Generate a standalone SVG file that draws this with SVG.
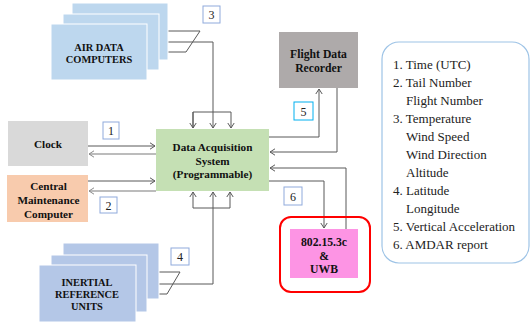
<svg xmlns="http://www.w3.org/2000/svg" width="531" height="323" viewBox="0 0 531 323">
<style>
text{font-family:'Liberation Serif','DejaVu Serif',serif}
.lbl{font-weight:bold;font-size:11.2px;fill:#111;text-anchor:middle}
.cap{font-weight:bold;font-size:10.4px;fill:#111;text-anchor:middle}
.num{font-size:12px;fill:#222;text-anchor:middle}
.nb{fill:#fff;stroke:#8faadc;stroke-width:1}
.leg{font-size:13px;fill:#222}
.dk{fill:none;stroke:#595959;stroke-width:1}
.lt{fill:none;stroke:#a6a6a6;stroke-width:1.6}
.adc{fill:#bdd7ee;stroke:#fff;stroke-width:1}
.iru{fill:#b4c7e7;stroke:#fff;stroke-width:1}
</style>
<defs>
<marker id="ad" viewBox="0 0 6 8" refX="5.5" refY="4" markerWidth="6" markerHeight="8" markerUnits="userSpaceOnUse" orient="auto">
<path d="M0.5,0.8 L5.5,4 L0.5,7.2" fill="none" stroke="#595959" stroke-width="1"/>
</marker>
<marker id="al" viewBox="0 0 6 8" refX="5.5" refY="4" markerWidth="6" markerHeight="8" markerUnits="userSpaceOnUse" orient="auto">
<path d="M0.5,0.8 L5.5,4 L0.5,7.2" fill="none" stroke="#8c8c8c" stroke-width="1"/>
</marker>
</defs>
<rect width="531" height="323" fill="#fff"/>

<g id="connectors">
<polyline class="dk" points="168,31 200,31 186,52 147,52"/>
<polyline class="dk" points="159,42 213,42 213,112"/>
<polyline class="dk" points="193,128 193,112 231,112 231,128" marker-end="url(#ad)"/>
<line class="dk" x1="193" y1="112" x2="193" y2="128" marker-end="url(#ad)"/>
<line class="dk" x1="213" y1="112" x2="213" y2="128" marker-end="url(#ad)"/>
<polyline class="dk" points="159,272 180,272 167,294 136,294"/>
<polyline class="dk" points="147,284 213,284 213,208"/>
<polyline class="dk" points="193,208 230,208"/>
<line class="dk" x1="193" y1="208" x2="193" y2="192" marker-end="url(#ad)"/>
<line class="dk" x1="213" y1="208" x2="213" y2="192" marker-end="url(#ad)"/>
<line class="dk" x1="230" y1="208" x2="230" y2="192" marker-end="url(#ad)"/>
<line class="dk" x1="88" y1="146" x2="155" y2="146" marker-end="url(#ad)"/>
<line class="lt" x1="156" y1="154" x2="89" y2="154" marker-end="url(#al)"/>
<line class="dk" x1="88" y1="181" x2="155" y2="181" marker-end="url(#ad)"/>
<line class="lt" x1="156" y1="191" x2="89" y2="191" marker-end="url(#al)"/>
<polyline class="dk" points="269,137 319,137 319,89" marker-end="url(#ad)"/>
<polyline class="dk" points="337,88 337,152 270,152" marker-end="url(#ad)"/>
<polyline class="dk" points="269,181 324,181 324,228" marker-end="url(#ad)"/>
<polyline class="dk" points="346,229 346,168 270,168" marker-end="url(#ad)"/>
</g>

<g id="adc">
<rect class="adc" x="72" y="3" width="96" height="57"/>
<rect class="adc" x="63" y="14" width="96" height="56"/>
<rect class="adc" x="51" y="24" width="96" height="56"/>
<text class="cap" x="99" y="50.5">AIR DATA</text>
<text class="cap" x="99" y="63">COMPUTERS</text>
</g>

<g id="iru">
<rect class="iru" x="63" y="243" width="96" height="56"/>
<rect class="iru" x="51" y="255" width="96" height="57"/>
<rect class="iru" x="39" y="265" width="97" height="57"/>
<text class="cap" x="87" y="285.5">INERTIAL</text>
<text class="cap" x="87" y="297.5">REFERENCE</text>
<text class="cap" x="87" y="310">UNITS</text>
</g>

<g id="clock">
<rect x="8" y="121" width="80" height="45" fill="#d9d9d9"/>
<text class="lbl" x="48" y="148">Clock</text>
</g>

<g id="cmc">
<rect x="7" y="175" width="81" height="47" fill="#f8cbad"/>
<text class="lbl" x="48.5" y="189.5">Central</text>
<text class="lbl" x="48.5" y="204">Maintenance</text>
<text class="lbl" x="48.5" y="218">Computer</text>
</g>

<g id="das">
<rect x="156" y="129" width="113" height="62" fill="#c5e0b4"/>
<text class="lbl" x="212.5" y="150.5">Data Acquisition</text>
<text class="lbl" x="212.5" y="164.5">System</text>
<text class="lbl" x="212.5" y="178">(Programmable)</text>
</g>

<g id="fdr">
<rect x="279" y="32" width="79" height="56" fill="#aeaaaa"/>
<text class="lbl" x="318.5" y="57.5" style="font-size:11.7px">Flight Data</text>
<text class="lbl" x="318.5" y="71.5" style="font-size:11.7px">Recorder</text>
</g>

<g id="uwb">
<rect x="280" y="217" width="90" height="75" rx="11" fill="none" stroke="#ff0000" stroke-width="2"/>
<rect x="290" y="229" width="68" height="49" fill="#fd94e4"/>
<text class="lbl" x="324" y="246" style="font-size:11.7px">802.15.3c</text>
<text class="lbl" x="324" y="259.5" style="font-size:11.7px">&amp;</text>
<text class="lbl" x="324" y="273" style="font-size:11.7px">UWB</text>
</g>

<g id="n1"><rect class="nb" x="103" y="122" width="16" height="17"/><text class="num" x="111" y="135">1</text></g>
<g id="n2"><rect class="nb" x="100" y="197" width="17" height="16"/><text class="num" x="108.5" y="209.5">2</text></g>
<g id="n3"><rect class="nb" x="203" y="6" width="17" height="17"/><text class="num" x="211.5" y="19">3</text></g>
<g id="n4"><rect class="nb" x="171" y="248" width="18" height="17"/><text class="num" x="180" y="261">4</text></g>
<g id="n5"><rect x="294" y="102" width="19" height="18" fill="#fff" stroke="#00b0f0" stroke-width="1"/><text class="num" x="303.5" y="115.5">5</text></g>
<g id="n6"><rect class="nb" x="284" y="187" width="18" height="18"/><text class="num" x="293" y="200.5">6</text></g>

<g id="legend">
<rect x="382" y="42" width="147" height="221" rx="17" fill="#fff" stroke="#9dc3e6" stroke-width="1.2"/>
<text class="leg" x="393" y="68.5">1. Time (UTC)</text>
<text class="leg" x="393" y="86.5">2. Tail Number</text>
<text class="leg" x="406" y="104.5">Flight Number</text>
<text class="leg" x="393" y="122.5">3. Temperature</text>
<text class="leg" x="406" y="140.5">Wind Speed</text>
<text class="leg" x="406" y="158.5">Wind Direction</text>
<text class="leg" x="406" y="176.5">Altitude</text>
<text class="leg" x="393" y="194.5">4. Latitude</text>
<text class="leg" x="406" y="212.5">Longitude</text>
<text class="leg" x="393" y="230.5">5. Vertical Acceleration</text>
<text class="leg" x="393" y="248.5">6. AMDAR report</text>
</g>
</svg>
